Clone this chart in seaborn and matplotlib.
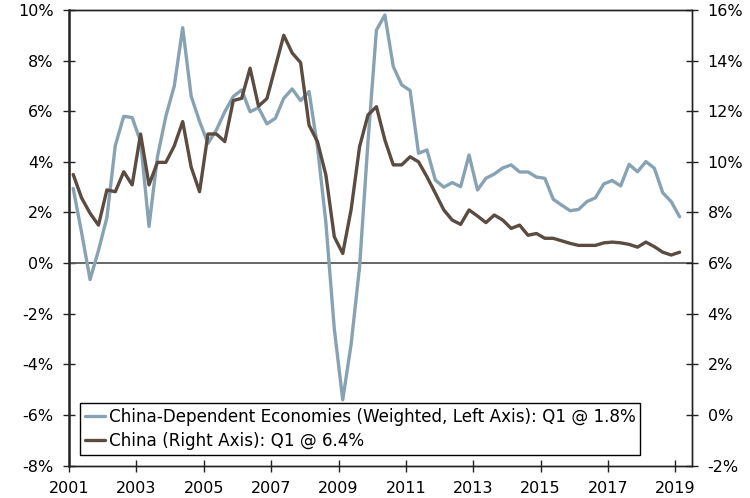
import numpy as np
import pandas as pd
import seaborn as sns
import matplotlib.pyplot as plt
from matplotlib.ticker import FuncFormatter

# quarterly data, 2001 Q1 .. 2019 Q1
start_year = 2001
dependent = [2.95, 1.2, -0.65, 0.5, 1.8, 4.65, 5.8, 5.75, 4.8, 1.45,
             4.2, 5.8, 7.0, 9.3, 6.6, 5.6, 4.73, 5.26, 5.98, 6.58,
             6.84, 5.98, 6.14, 5.5, 5.72, 6.51, 6.88, 6.42, 6.78, 4.6,
             1.6, -2.6, -5.4, -3.2, -0.15, 4.8, 9.2, 9.8, 7.77, 7.04,
             6.82, 4.34, 4.47, 3.28, 3.0, 3.18, 3.02, 4.27, 2.89, 3.35,
             3.52, 3.76, 3.88, 3.6, 3.6, 3.4, 3.35, 2.52, 2.29, 2.07,
             2.12, 2.43, 2.58, 3.13, 3.26, 3.05, 3.9, 3.61, 4.01, 3.75,
             2.78, 2.43, 1.83]
china = [9.5, 8.57, 7.97, 7.5, 8.89, 8.82, 9.61, 9.09, 11.1, 9.09,
         9.98, 9.98, 10.63, 11.59, 9.8, 8.82, 11.1, 11.1, 10.8, 12.42,
         12.51, 13.7, 12.2, 12.5, 13.75, 15.0, 14.3, 13.92, 11.45, 10.8,
         9.48, 7.04, 6.38, 8.12, 10.6, 11.85, 12.18, 10.87, 9.88, 9.88,
         10.2, 10.0, 9.41, 8.76, 8.1, 7.7, 7.53, 8.1, 7.86, 7.6,
         7.9, 7.7, 7.37, 7.5, 7.1, 7.17, 6.98, 6.98, 6.88, 6.78,
         6.7, 6.7, 6.7, 6.8, 6.83, 6.8, 6.74, 6.63, 6.83, 6.65,
         6.43, 6.32, 6.43]

label_dep = "China-Dependent Economies (Weighted, Left Axis): Q1 @ 1.8%"
label_chn = "China (Right Axis): Q1 @ 6.4%"
x_years = [2001, 2003, 2005, 2007, 2009, 2011, 2013, 2015, 2017, 2019]

# each quarter plotted at its midpoint
t = start_year + np.arange(len(china)) / 4 + 0.125
df = pd.DataFrame({"t": t, "dep": dependent, "china": china})

sns.set_style("white")
plt.rcParams["font.family"] = ["DejaVu Sans"]
plt.rcParams["font.size"] = 11.5
plt.rcParams["text.color"] = "black"

blue = "#87a2b3"
brown = "#5c4b40"

fig, ax = plt.subplots(figsize=(7.5, 4.98), dpi=100)
fig.subplots_adjust(left=0.092, right=0.923, top=0.98, bottom=0.065)
ax2 = ax.twinx()

ax.axhline(0, color="#5a5a5a", lw=1.3, zorder=1)
sns.lineplot(data=df, x="t", y="dep", ax=ax, color=blue, lw=2.4, label=label_dep, legend=False)
sns.lineplot(data=df, x="t", y="china", ax=ax2, color=brown, lw=2.4, label=label_chn, legend=False)

ax.set_xlim(2001, 2019.5)
ax.set_ylim(-8, 10)
ax2.set_ylim(-2, 16)
ax.set_xticks(x_years)
ax.set_xticklabels([str(y) for y in x_years])
ax.set_yticks(range(-8, 11, 2))
ax2.set_yticks(range(-2, 17, 2))
pct = FuncFormatter(lambda v, p: f"{v:.0f}%")
ax.yaxis.set_major_formatter(pct)
ax2.yaxis.set_major_formatter(pct)
ax.set_xlabel("")
ax.set_ylabel("")
ax2.set_ylabel("")

for a in (ax, ax2):
    a.tick_params(direction="inout", length=8, width=1, color="#222222",
                  labelsize=11.5, pad=7, labelcolor="black")
    for s in a.spines.values():
        s.set_color("#222222")
        s.set_linewidth(1)
ax.tick_params(axis="y", left=True)
ax.tick_params(axis="x", bottom=True)
ax2.tick_params(axis="y", right=True)
ax.spines["left"].set_linewidth(1.8)
ax.spines["left"].set_color("#333333")

h1, l1 = ax.get_legend_handles_labels()
h2, l2 = ax2.get_legend_handles_labels()
leg = ax2.legend(h1 + h2, l1 + l2, loc="lower left", bbox_to_anchor=(0.0177, 0.0235),
                 borderaxespad=0, frameon=True, fancybox=False, framealpha=1,
                 edgecolor="black", fontsize=12.1, handlelength=1.2,
                 handletextpad=0.2, labelspacing=0.35, borderpad=0.3)
leg.get_frame().set_linewidth(1)
for txt in leg.get_texts():
    txt.set_color("black")

fig.savefig("out.png", dpi=100)
